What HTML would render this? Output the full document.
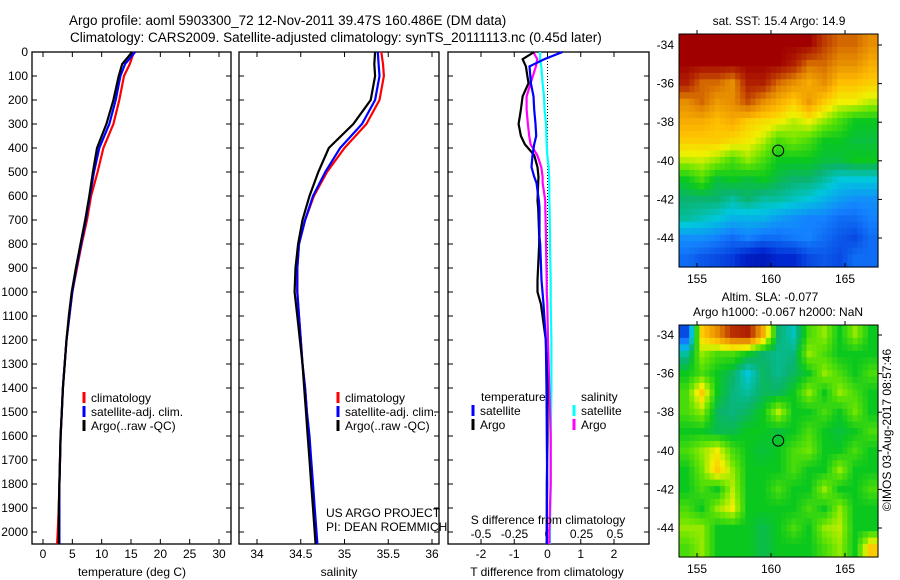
<!DOCTYPE html>
<html><head><meta charset="utf-8"><style>
body{margin:0;background:#fff}
svg{display:block;font-family:"Liberation Sans",sans-serif;font-size:12px}
</style></head><body>
<svg id="fig" width="900" height="580" viewBox="0 0 900 580">
<text x="69" y="25" style="font-size:13.5px">Argo profile: aoml 5903300_72 12-Nov-2011 39.47S 160.486E (DM data)</text>
<text x="70" y="42" style="font-size:13.5px">Climatology: CARS2009. Satellite-adjusted climatology: synTS_20111113.nc (0.45d later)</text>
<g id="g1"></g>
<g id="g2"></g>
<g id="g3"></g>
<g id="m1"></g>
<g id="m2"></g>
<text x="779" y="25" text-anchor="middle">sat. SST: 15.4  Argo: 14.9</text>
<text x="770" y="301" text-anchor="middle">Altim. SLA: -0.077</text>
<text x="778" y="316" text-anchor="middle">Argo h1000: -0.067 h2000: NaN</text>
<text transform="translate(891,430) rotate(-90)" text-anchor="middle">©IMOS 03-Aug-2017 08:57:46</text>
</svg>
<script>
// ---- data ----
const depths=[0,50,100,200,300,400,500,600,700,800,900,1000,1100,1200,1300,1400,1500,1600,1700,1800,1900,2000,2050];
const tempClim=[15.5,14.8,13.8,13.0,12.0,10.3,9.3,8.2,7.5,6.6,5.8,5.0,4.5,4.0,3.7,3.4,3.2,3.0,2.9,2.8,2.7,2.5,2.4];
const tempSat=[15.7,14.0,13.2,12.4,11.3,9.6,8.7,8.0,7.3,6.5,5.7,5.0,4.5,4.0,3.7,3.4,3.2,3.0,2.9,2.8,2.8,2.8,2.8];
const tempArgo=[15.2,13.5,12.9,12.0,10.8,9.2,8.5,7.9,7.2,6.4,5.6,4.9,4.4,4.0,3.7,3.4,3.2,3.0,2.9,2.8,2.7,2.7,2.7];
const salClim=[35.42,35.44,35.45,35.4,35.25,35.0,34.8,34.65,34.55,34.48,34.46,34.46,34.48,34.5,34.52,34.55,34.57,34.59,34.61,34.63,34.65,34.67,34.68];
const salSat=[35.38,35.39,35.4,35.35,35.2,34.95,34.78,34.64,34.55,34.48,34.46,34.46,34.48,34.5,34.52,34.55,34.57,34.6,34.62,34.64,34.66,34.68,34.69];
const salArgo=[35.35,35.34,35.35,35.3,35.1,34.82,34.7,34.6,34.52,34.47,34.44,34.43,34.46,34.49,34.52,34.54,34.56,34.58,34.6,34.62,34.64,34.66,34.67];
const diffDepths=[0,30,60,130,185,240,300,350,385,430,480,520,545,620,650,770,800,950,1000,1050,1200,1400,1600,1800,2000,2050];
const tDiffSat=[0.45,-0.1,-0.54,-0.5,-0.42,-0.4,-0.36,-0.34,-0.4,-0.45,-0.48,-0.4,-0.33,-0.26,-0.24,-0.24,-0.22,-0.18,-0.15,-0.12,-0.05,-0.03,-0.02,-0.01,-0.02,-0.02];
const tDiffArgo=[-0.4,-0.75,-0.65,-0.57,-0.75,-0.8,-0.87,-0.8,-0.68,-0.4,-0.3,-0.27,-0.28,-0.3,-0.28,-0.25,-0.25,-0.3,-0.3,-0.2,-0.05,0,0,-0.02,-0.02,-0.02];
const sDiffSat=[-0.06,-0.06,-0.05,-0.04,-0.03,-0.025,-0.015,-0.012,-0.01,-0.005,0.005,0.008,0.01,0.01,0.012,0.015,0.015,0.02,0.02,0.02,0.025,0.025,0.02,0.02,0.015,0.015];
const sDiffArgo=[-0.11,-0.08,-0.09,-0.13,-0.16,-0.16,-0.15,-0.14,-0.13,-0.08,-0.05,-0.04,-0.04,-0.02,-0.02,-0.015,-0.015,-0.01,-0.01,-0.005,0,0.01,0.02,0.02,0.01,0.01];
const depthTicks=[0,100,200,300,400,500,600,700,800,900,1000,1100,1200,1300,1400,1500,1600,1700,1800,1900,2000];
const tempTicks=[0,5,10,15,20,25,30];
const salTicks=[34,34.5,35,35.5,36];
const tDiffTicks=[-2,-1,0,1,2];
const sDiffTicks=[-0.5,-0.25,0,0.25,0.5];
const lonTicks=[155,160,165];
const latTicks=[-34,-36,-38,-40,-42,-44];
const floatLon=160.486, floatLat=-39.47;
const sstGrid=[
[1,1,1,1,1,1,1,1,1,.9,.85,.85,.8],
[1,1,1,1,1,1,1,.95,.85,.85,.8,.8,.75],
[.95,.85,.85,.8,.95,.95,.85,.8,.75,.8,.72,.72,.7],
[.8,.85,.78,.8,.88,.8,.75,.7,.78,.7,.65,.65,.62],
[.75,.75,.72,.75,.7,.68,.66,.62,.65,.6,.55,.5,.5],
[.7,.7,.7,.68,.66,.62,.55,.58,.55,.5,.5,.48,.48],
[.62,.63,.6,.55,.6,.55,.5,.5,.5,.48,.48,.5,.5],
[.5,.55,.48,.5,.48,.5,.47,.45,.45,.42,.38,.38,.38],
[.45,.45,.45,.42,.45,.42,.42,.4,.38,.35,.32,.3,.3],
[.42,.4,.38,.35,.35,.35,.32,.3,.28,.28,.25,.25,.28],
[.3,.3,.28,.25,.28,.25,.25,.27,.28,.25,.22,.2,.25],
[.25,.22,.2,.18,.12,.1,.15,.15,.2,.22,.2,.25,.25]];
const slaGrid=[
[.2,.7,.8,.92,.95,.75,.45,.4,.55,.6,.5,.6,.5],
[.42,.6,.55,.55,.5,.45,.43,.44,.6,.55,.5,.5,.5],
[.5,.55,.5,.46,.38,.46,.43,.46,.5,.6,.55,.5,.55],
[.55,.7,.5,.44,.42,.46,.46,.5,.6,.5,.6,.55,.5],
[.55,.6,.46,.44,.46,.5,.62,.5,.5,.55,.5,.58,.5],
[.5,.5,.47,.47,.5,.5,.48,.5,.55,.5,.48,.5,.55],
[.55,.6,.65,.55,.5,.48,.5,.55,.58,.5,.5,.55,.5],
[.5,.58,.7,.6,.5,.5,.5,.55,.5,.5,.6,.5,.5],
[.5,.55,.5,.62,.5,.5,.55,.5,.5,.6,.5,.5,.55],
[.55,.5,.6,.65,.5,.5,.5,.5,.55,.5,.6,.5,.5],
[.6,.6,.5,.5,.5,.47,.5,.55,.5,.6,.62,.5,.5],
[.55,.6,.5,.5,.5,.47,.5,.5,.5,.55,.6,.5,.7]];
// ---- helpers ----
const NS="http://www.w3.org/2000/svg";
function mk(p,tag,a){const e=document.createElementNS(NS,tag);for(const k in a)e.setAttribute(k,a[k]);p.appendChild(e);return e;}
const yD=d=>52+0.24*d;
function lin(d0,d1,p0,p1){return v=>p0+(v-d0)*(p1-p0)/(d1-d0);}
function panel(g,x0,x1,name){
  const r=mk(g,'rect',{x:x0,y:52,width:x1-x0,height:492,fill:'none',stroke:'#000','stroke-width':1.3});
  
  
  depthTicks.forEach(d=>{
    const t=mk(g,'line',{x1:x0,x2:x0+5,y1:yD(d),y2:yD(d),stroke:'#000'});
    
    
    const t2=mk(g,'line',{x1:x1-5,x2:x1,y1:yD(d),y2:yD(d),stroke:'#000'});
    
    
  });
}
function txt(g,x,y,s,anchor,name){const t=mk(g,'text',{x:x,y:y,'text-anchor':anchor||'start'});t.textContent=s;
  
  return t;}
function xticks(g,ticks,sx,labY){
  ticks.forEach(v=>{
    const t=mk(g,'line',{x1:sx(v),x2:sx(v),y1:544,y2:539,stroke:'#000'});
    
    
    const u=mk(g,'line',{x1:sx(v),x2:sx(v),y1:52,y2:57,stroke:'#000'});
    
    
    txt(g,sx(v),labY,String(v),'middle','x-tick-label');
  });
}
function line(g,xs,ds,sx,color,name){
  const pts=xs.map((v,i)=>sx(v).toFixed(1)+','+yD(ds[i]).toFixed(1)).join(' ');
  const p=mk(g,'polyline',{points:pts,fill:'none',stroke:color,'stroke-width':2.2});
  
  
}
function legend(g,x,y,color,label){
  const b=mk(g,'line',{x1:x,x2:x,y1:y-10,y2:y+1,stroke:color,'stroke-width':3});
  
  
  txt(g,x+7,y,label,'start','legend-entry');
}
// ---- panel 1 ----
const g1=document.getElementById('g1');
panel(g1,32,231,'temperature');
depthTicks.forEach(d=>txt(g1,28,yD(d)+4,String(d),'end','depth-label'));
const sT=lin(0,30,43,219);
xticks(g1,tempTicks,sT,558);
line(g1,tempClim,depths,sT,'#f00','temp-climatology-line');
line(g1,tempSat,depths,sT,'#00f','temp-satellite-line');
line(g1,tempArgo,depths,sT,'#000','temp-argo-line');
legend(g1,84,402,'#f00','climatology');legend(g1,84,416,'#00f','satellite-adj. clim.');legend(g1,84,430,'#000','Argo(..raw -QC)');
txt(g1,132,576,'temperature (deg C)','middle','x-axis-title');
// ---- panel 2 ----
const g2=document.getElementById('g2');
panel(g2,239,439,'salinity');
const sS=lin(34,36,257,432);
xticks(g2,salTicks,sS,558);
line(g2,salClim,depths,sS,'#f00','sal-climatology-line');
line(g2,salSat,depths,sS,'#00f','sal-satellite-line');
line(g2,salArgo,depths,sS,'#000','sal-argo-line');
legend(g2,338,402,'#f00','climatology');legend(g2,338,416,'#00f','satellite-adj. clim.');legend(g2,338,430,'#000','Argo(..raw -QC)');
txt(g2,326,517,'US ARGO PROJECT','start','project-label');
txt(g2,326,531,'PI: DEAN ROEMMICH','start','pi-label');
txt(g2,339,576,'salinity','middle','x-axis-title');
// ---- panel 3 ----
const g3=document.getElementById('g3');
panel(g3,448,649,'difference');
const sTd=lin(-2,2,481,614), sSd=lin(-0.5,0.5,481,615);
const zl=mk(g3,'line',{x1:sTd(0),x2:sTd(0),y1:52,y2:544,stroke:'#000','stroke-dasharray':'1,2'});


xticks(g3,tDiffTicks,sTd,558);
sDiffTicks.forEach(v=>txt(g3,sSd(v),538,String(v),'middle','s-diff-tick-label'));
line(g3,sDiffSat,diffDepths,sSd,'#0ff','s-diff-satellite-line');
line(g3,sDiffArgo,diffDepths,sSd,'#f0f','s-diff-argo-line');
line(g3,tDiffArgo,diffDepths,sTd,'#000','t-diff-argo-line');
line(g3,tDiffSat,diffDepths,sTd,'#00f','t-diff-satellite-line');
txt(g3,481,401,'temperature','start','legend-title-temperature');
legend(g3,473,415,'#00f','satellite');legend(g3,473,429,'#000','Argo');
txt(g3,581,401,'salinity','start','legend-title-salinity');
legend(g3,574,415,'#0ff','satellite');legend(g3,574,429,'#f0f','Argo');
txt(g3,548,524,'S difference from climatology','middle','s-axis-title');
txt(g3,547,576,'T difference from climatology','middle','t-axis-title');
// ---- maps ----
const stops=[[0,[0,0,140]],[0.15,[0,40,210]],[0.28,[20,130,255]],[0.38,[0,200,220]],[0.45,[10,180,110]],[0.5,[10,200,30]],[0.58,[110,230,0]],[0.65,[240,240,0]],[0.72,[255,190,0]],[0.82,[225,130,0]],[0.9,[190,60,0]],[1,[160,0,0]]];
function cmap(v){for(let i=1;i<stops.length;i++){if(v<=stops[i][0]){const[a,ca]=stops[i-1],[b,cb]=stops[i];const f=(v-a)/(b-a);return 'rgb('+ca.map((c,k)=>Math.round(c+(cb[k]-c)*f)).join(',')+')';}}return 'rgb(160,0,0)';}
function sample(grid,fy,fx){
  const R=grid.length-1,C=grid[0].length-1;
  fy=Math.max(0,Math.min(R,fy));fx=Math.max(0,Math.min(C,fx));
  const r0=Math.floor(fy),c0=Math.floor(fx),r1=Math.min(R,r0+1),c1=Math.min(C,c0+1),a=fy-r0,b=fx-c0;
  return grid[r0][c0]*(1-a)*(1-b)+grid[r0][c1]*(1-a)*b+grid[r1][c0]*a*(1-b)+grid[r1][c1]*a*b;
}
function map(id,grid,y0,y1,latRef){
  const g=document.getElementById(id),x0=679,x1=878;
  const rows=grid.length,cols=grid[0].length,sub=3;
  const cw=(x1-x0)/(cols*sub),ch=(y1-y0)/(rows*sub);
  for(let r=0;r<rows*sub;r++)for(let c=0;c<cols*sub;c++){
    const v=sample(grid,(r+0.5)/sub-0.5,(c+0.5)/sub-0.5);
    const e=mk(g,'rect',{x:(x0+c*cw).toFixed(2),y:(y0+r*ch).toFixed(2),width:(cw+0.6).toFixed(2),height:(ch+0.6).toFixed(2),fill:cmap(v)});
    
    
  }
  const fr=mk(g,'rect',{x:x0,y:y0,width:x1-x0,height:y1-y0,fill:'none',stroke:'#000'});
  
  
  const sx=lin(155,165,697,845), sy=lin(-34,-44,latRef,latRef+193);
  lonTicks.forEach(v=>{mk(g,'line',{x1:sx(v),x2:sx(v),y1:y1,y2:y1-4,stroke:'#000'});mk(g,'line',{x1:sx(v),x2:sx(v),y1:y0,y2:y0-4,stroke:'#000'});txt(g,sx(v),y1+16,String(v),'middle','lon-tick-label');});
  latTicks.forEach(v=>{mk(g,'line',{x1:x1,x2:x1+4,y1:sy(v),y2:sy(v),stroke:'#000'});txt(g,674,sy(v)+4,String(v),'end','lat-tick-label');});
  const c=mk(g,'circle',{cx:sx(floatLon),cy:sy(floatLat),r:5.5,fill:'none',stroke:'#000'});
  
  
}
map('m1',sstGrid,34,267,45);
map('m2',slaGrid,325,557,335);
</script>
</body></html>
